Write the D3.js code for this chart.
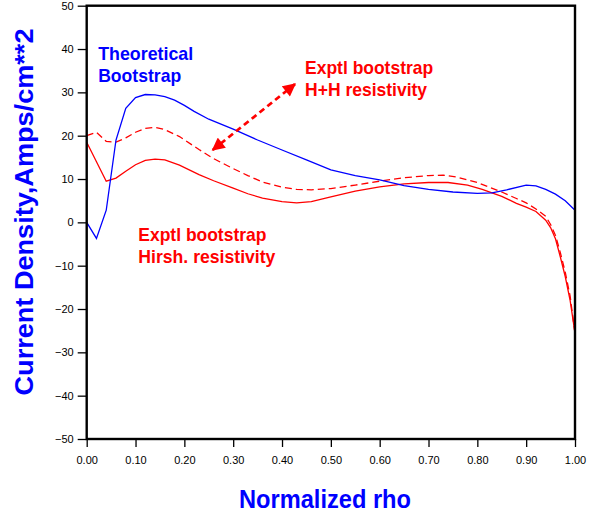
<!DOCTYPE html>
<html>
<head>
<meta charset="utf-8">
<script src="https://cdn.jsdelivr.net/npm/d3@7"></script>
<style>
  body { margin: 0; background: #fff; }
  svg { display: block; }
  .tick text { font-family: "Liberation Sans", Arial, sans-serif; font-size: 11px; fill: #000; }
  .tick line { stroke: #000; stroke-width: 1.3; }
  .lbl { font-family: "Liberation Sans", Arial, sans-serif; font-weight: bold; }
</style>
</head>
<body>
<svg id="svg" width="589" height="519"></svg>
<script>
// x ticks and y ticks
const xTicks = [0, 0.1, 0.2, 0.3, 0.4, 0.5, 0.6, 0.7, 0.8, 0.9, 1.0];
const yTicks = [-50, -40, -30, -20, -10, 0, 10, 20, 30, 40, 50];

// Theoretical bootstrap (blue)
const theoRho = [0, 0.02, 0.04, 0.06, 0.08, 0.10, 0.12, 0.14, 0.16, 0.18, 0.20, 0.22, 0.25, 0.30, 0.35, 0.40, 0.45, 0.50, 0.55, 0.60, 0.65, 0.70, 0.75, 0.80, 0.83, 0.86, 0.90, 0.92, 0.94, 0.96, 0.98, 1.00];
const theoJ   = [0, -3.7, 2.8, 19.0, 26.3, 28.8, 29.5, 29.4, 29.0, 28.2, 27.0, 25.6, 23.8, 21.5, 19.0, 16.7, 14.4, 12.1, 10.8, 9.8, 8.5, 7.6, 7.0, 6.7, 6.8, 7.5, 8.6, 8.4, 7.6, 6.5, 5.0, 2.8];

// Exptl bootstrap, H+H resistivity (red dashed)
const hhRho = [0, 0.02, 0.04, 0.06, 0.08, 0.10, 0.12, 0.14, 0.16, 0.19, 0.23, 0.26, 0.30, 0.33, 0.36, 0.40, 0.43, 0.46, 0.50, 0.55, 0.60, 0.65, 0.70, 0.73, 0.76, 0.80, 0.85, 0.88, 0.90, 0.92, 0.94, 0.95, 0.96, 0.97, 0.98, 0.99, 1.00];
const hhJ   = [20.0, 20.8, 18.7, 18.5, 19.5, 20.8, 21.7, 21.9, 21.4, 19.8, 16.8, 14.7, 12.4, 10.8, 9.3, 8.1, 7.6, 7.5, 7.8, 8.6, 9.5, 10.3, 10.8, 10.9, 10.4, 9.2, 7.0, 5.5, 4.5, 3.1, 1.4, -0.5, -3.0, -7.0, -11.5, -17.0, -25.6];

// Exptl bootstrap, Hirsh. resistivity (red solid)
const hirRho = [0, 0.02, 0.04, 0.06, 0.08, 0.10, 0.12, 0.14, 0.16, 0.19, 0.23, 0.26, 0.30, 0.33, 0.36, 0.40, 0.43, 0.46, 0.50, 0.55, 0.60, 0.65, 0.70, 0.74, 0.78, 0.81, 0.85, 0.88, 0.90, 0.92, 0.94, 0.95, 0.96, 0.97, 0.98, 0.99, 1.00];
const hirJ   = [18.5, 14.0, 9.5, 10.2, 11.8, 13.3, 14.3, 14.6, 14.4, 13.2, 11.0, 9.6, 7.9, 6.6, 5.6, 4.8, 4.5, 4.8, 5.9, 7.2, 8.2, 8.9, 9.2, 9.2, 8.6, 7.6, 6.0, 4.4, 3.5, 2.5, 0.5, -1.2, -3.8, -8.0, -12.5, -18.0, -25.6];

// annotations (data units)
const arrowEnds = [[0.258, 16.7], [0.4266, 31.9]];
const notes = [
  { lines: ["Theoretical", "Bootstrap"], widths: [95, 83], at: [0.0235, 37.5], color: "#0000ff" },
  { lines: ["Exptl bootstrap", "H+H resistivity"], widths: [128, 122], at: [0.4473, 34.2], color: "#ff0000" },
  { lines: ["Exptl bootstrap", "Hirsh. resistivity"], widths: [128, 137], at: [0.1058, -4.4], color: "#ff0000" }
];

const svg = d3.select("svg");
const x = d3.scaleLinear().domain([0, 1]).range([86.7, 575]);
const y = d3.scaleLinear().domain([-50, 50]).range([439, 5.7]);

// axes
const yAxis = svg.append("g")
  .attr("transform", "translate(" + x(0) + ",0)")
  .call(d3.axisLeft(y).tickValues(yTicks).tickSize(9).tickPadding(4));
yAxis.select(".domain").remove();

const xAxis = svg.append("g")
  .attr("transform", "translate(0," + y(-50) + ")")
  .call(d3.axisBottom(x).tickValues(xTicks).tickFormat(d3.format(".2f")).tickSize(8).tickPadding(9));
xAxis.select(".domain").remove();

// curves
const line = d3.line().x(d => x(d[0])).y(d => y(d[1]));

svg.append("path")
  .datum(d3.zip(hirRho, hirJ))
  .attr("d", line)
  .style("fill", "none").style("stroke", "#ff0000").style("stroke-width", 1.3);

svg.append("path")
  .datum(d3.zip(hhRho, hhJ))
  .attr("d", line)
  .style("fill", "none").style("stroke", "#ff0000").style("stroke-width", 1.3)
  .style("stroke-dasharray", "7,4");

svg.append("path")
  .datum(d3.zip(theoRho, theoJ))
  .attr("d", line)
  .style("fill", "none").style("stroke", "#0000ff").style("stroke-width", 1.3);

// frame
svg.append("rect")
  .attr("x", x(0)).attr("y", y(50))
  .attr("width", x(1) - x(0)).attr("height", y(-50) - y(50))
  .style("fill", "none").style("stroke", "#000").style("stroke-width", 2.4);

// double-headed arrow
svg.append("defs").append("marker")
  .attr("id", "head")
  .attr("viewBox", "0 0 10 10")
  .attr("refX", 9).attr("refY", 5)
  .attr("markerUnits", "userSpaceOnUse")
  .attr("markerWidth", 14).attr("markerHeight", 13)
  .attr("orient", "auto-start-reverse")
  .append("path")
  .attr("d", "M0,0L10,5L0,10Z")
  .style("fill", "#ff0000");

svg.append("path")
  .datum(arrowEnds)
  .attr("d", line)
  .attr("marker-start", "url(#head)")
  .attr("marker-end", "url(#head)")
  .style("fill", "none").style("stroke", "#ff0000").style("stroke-width", 2.8)
  .style("stroke-dasharray", "6,4");

// text notes
notes.forEach(n => {
  n.lines.forEach((t, i) => {
    svg.append("text")
      .attr("class", "lbl")
      .attr("x", x(n.at[0]))
      .attr("y", y(n.at[1]) + i * 22)
      .attr("textLength", n.widths[i])
      .attr("lengthAdjust", "spacingAndGlyphs")
      .style("font-size", "19px")
      .style("fill", n.color)
      .text(t);
  });
});

// axis titles
svg.append("text")
  .attr("class", "lbl")
  .attr("x", 325).attr("y", 508)
  .attr("text-anchor", "middle")
  .attr("textLength", 172)
  .attr("lengthAdjust", "spacingAndGlyphs")
  .style("font-size", "25px")
  .style("fill", "#0000ff")
  .text("Normalized rho");

svg.append("text")
  .attr("class", "lbl")
  .attr("transform", "translate(33,212) rotate(-90)")
  .attr("text-anchor", "middle")
  .attr("textLength", 367)
  .attr("lengthAdjust", "spacingAndGlyphs")
  .style("font-size", "25px")
  .style("fill", "#0000ff")
  .text("Current Density,Amps/cm**2");
</script>
</body>
</html>
